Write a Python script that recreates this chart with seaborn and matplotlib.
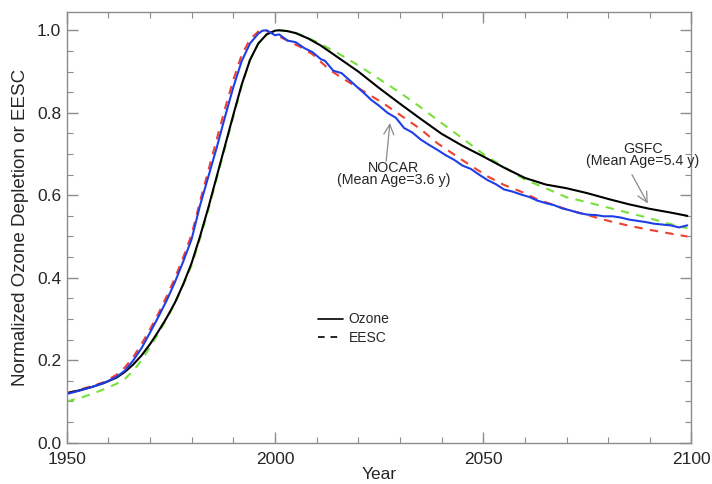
"""
Normalized ozone depletion vs EESC, GSFC and NOCAR models (1950-2100)
"""

import matplotlib
matplotlib.use('Agg')
import matplotlib.pyplot as plt
from matplotlib.lines import Line2D
import seaborn as sns

sns.set_style("ticks")
plt.rcParams['font.family'] = ['Liberation Sans', 'DejaVu Sans']

# GSFC ozone (black solid)
gsfc_o3_years = [1950, 1953, 1956, 1959, 1962, 1964, 1966, 1968, 1970, 1972, 1974,
                 1976, 1978, 1980, 1982, 1984, 1986, 1988, 1990, 1992, 1994, 1996,
                 1998, 2000, 2001, 2003, 2005, 2008, 2011, 2015, 2020, 2025, 2030,
                 2035, 2040, 2045, 2050, 2055, 2060, 2065, 2070, 2075, 2080, 2085,
                 2090, 2095, 2099]
gsfc_o3 = [0.120, 0.127, 0.135, 0.145, 0.158, 0.172, 0.190, 0.212, 0.239, 0.270, 0.303,
           0.340, 0.385, 0.436, 0.500, 0.570, 0.645, 0.720, 0.795, 0.868, 0.928, 0.968,
           0.990, 0.999, 1.000, 0.998, 0.993, 0.980, 0.963, 0.935, 0.900, 0.860, 0.822,
           0.785, 0.749, 0.720, 0.694, 0.667, 0.642, 0.626, 0.617, 0.605, 0.591, 0.578,
           0.567, 0.558, 0.550]

# GSFC EESC (green dashed)
gsfc_eesc_years = [1950, 1953, 1956, 1959, 1962, 1964, 1966, 1968, 1970, 1972, 1974,
                   1976, 1978, 1980, 1982, 1984, 1986, 1988, 1990, 1992, 1994, 1996,
                   1998, 2000, 2001, 2003, 2005, 2010, 2015, 2020, 2025, 2030, 2035,
                   2040, 2045, 2050, 2055, 2060, 2065, 2070, 2075, 2080, 2085, 2090,
                   2095, 2099]
gsfc_eesc = [0.100, 0.108, 0.118, 0.130, 0.143, 0.155, 0.175, 0.200, 0.232, 0.265, 0.300,
             0.338, 0.383, 0.430, 0.495, 0.565, 0.640, 0.715, 0.790, 0.865, 0.928, 0.968,
             0.990, 0.999, 1.000, 0.998, 0.994, 0.972, 0.945, 0.915, 0.882, 0.849, 0.813,
             0.775, 0.738, 0.700, 0.668, 0.638, 0.617, 0.595, 0.583, 0.570, 0.557, 0.544,
             0.530, 0.520]

# NOCAR EESC (red dashed)
nocar_eesc_years = [1950, 1953, 1956, 1959, 1962, 1964, 1966, 1968, 1970, 1972, 1974,
                    1976, 1978, 1980, 1982, 1984, 1986, 1988, 1990, 1992, 1994, 1996,
                    1997, 1998, 2000, 2003, 2006, 2009, 2013, 2016, 2020, 2026, 2030,
                    2035, 2039, 2045, 2051, 2055, 2060, 2063, 2070, 2075, 2080, 2085,
                    2090, 2095, 2099]
nocar_eesc = [0.120, 0.128, 0.137, 0.147, 0.165, 0.183, 0.208, 0.240, 0.275, 0.313, 0.355,
              0.400, 0.450, 0.505, 0.585, 0.660, 0.735, 0.810, 0.880, 0.940, 0.978, 0.997,
              1.000, 0.998, 0.990, 0.975, 0.960, 0.942, 0.905, 0.885, 0.860, 0.823, 0.795,
              0.760, 0.726, 0.685, 0.646, 0.625, 0.605, 0.590, 0.566, 0.552, 0.538, 0.526,
              0.516, 0.507, 0.500]

# NOCAR ozone (blue solid, wiggly)
nocar_o3_years = [1950, 1953, 1956, 1959, 1962, 1964, 1966, 1968, 1970, 1972, 1974,
                  1976, 1978, 1980, 1982, 1984, 1986, 1988, 1990, 1992, 1994, 1996,
                  1997, 1998, 2000, 2001, 2003, 2005, 2007, 2009, 2011, 2012, 2014,
                  2016, 2018, 2020, 2022, 2023, 2025, 2027, 2029, 2031, 2033, 2035,
                  2037, 2039, 2041, 2043, 2045, 2047, 2049, 2051, 2053, 2055, 2057,
                  2059, 2061, 2063, 2065, 2067, 2069, 2071, 2073, 2075, 2077, 2079,
                  2081, 2083, 2085, 2087, 2089, 2091, 2093, 2095, 2097, 2099]
nocar_o3 = [0.118, 0.126, 0.135, 0.145, 0.160, 0.175, 0.200, 0.230, 0.267, 0.305, 0.345,
            0.390, 0.440, 0.494, 0.575, 0.645, 0.715, 0.790, 0.862, 0.925, 0.968, 0.992,
            0.999, 1.000, 0.988, 0.990, 0.975, 0.971, 0.957, 0.947, 0.930, 0.926, 0.902,
            0.896, 0.878, 0.860, 0.842, 0.832, 0.817, 0.800, 0.788, 0.763, 0.752, 0.735,
            0.722, 0.710, 0.697, 0.686, 0.672, 0.664, 0.650, 0.637, 0.627, 0.614, 0.609,
            0.602, 0.596, 0.587, 0.581, 0.576, 0.568, 0.563, 0.557, 0.553, 0.552, 0.549,
            0.549, 0.546, 0.541, 0.538, 0.535, 0.531, 0.529, 0.527, 0.522, 0.527]

fig = plt.figure(figsize=(7.12, 4.84), dpi=100)
ax = fig.add_axes([0.0937, 0.0853, 0.8775, 0.8905])

dash = (0, (4, 3.5))
sns.lineplot(x=gsfc_eesc_years, y=gsfc_eesc, ax=ax, color='#78e03c', linewidth=1.5,
             linestyle=dash)
sns.lineplot(x=nocar_eesc_years, y=nocar_eesc, ax=ax, color='#f0402f', linewidth=1.5,
             linestyle=dash)
sns.lineplot(x=gsfc_o3_years, y=gsfc_o3, ax=ax, color='black', linewidth=1.5)
sns.lineplot(x=nocar_o3_years, y=nocar_o3, ax=ax, color='#1f3fe6', linewidth=1.5)

ax.set_xlim(1950, 2100)
ax.set_ylim(0, 1.045)
ax.set_xticks([1950, 2000, 2050, 2100])
ax.set_xticks(range(1950, 2101, 10), minor=True)
ax.set_yticks([0.0, 0.2, 0.4, 0.6, 0.8, 1.0])
ax.set_yticks([i * 0.05 for i in range(21)], minor=True)
ax.yaxis.set_major_formatter(matplotlib.ticker.FormatStrFormatter('%.1f'))

frame_color = '#8c8c8c'
for s in ax.spines.values():
    s.set_color(frame_color)
    s.set_linewidth(1.0)
ax.tick_params(which='both', direction='in', top=True, right=True,
               color=frame_color, labelsize=12.5)
ax.tick_params(which='major', length=8, width=1.0)
ax.tick_params(which='minor', length=4.5, width=0.8)
ax.tick_params(axis='x', which='major', pad=6.5)
ax.tick_params(axis='y', which='major', pad=4)

ax.set_xlabel('Year', fontsize=12.5, labelpad=0)
ax.set_ylabel('Normalized Ozone Depletion or EESC', fontsize=13.5, labelpad=6)

# annotations
arrow = dict(arrowstyle='->', color='#8a8a8a', lw=0.9, shrinkA=0, shrinkB=0,
             mutation_scale=18)
ax.annotate('', xy=(2027.6, 0.775), xytext=(2026.7, 0.683), arrowprops=arrow)
ax.text(2028.5, 0.620, 'NOCAR\n(Mean Age=3.6 y)', ha='center', va='bottom',
        fontsize=10.3, linespacing=0.85)
ax.annotate('', xy=(2089.5, 0.580), xytext=(2085.7, 0.650), arrowprops=arrow)
ax.text(2088.3, 0.665, 'GSFC\n(Mean Age=5.4 y)', ha='center', va='bottom',
        fontsize=10.3, linespacing=0.85)

handles = [Line2D([], [], color='black', lw=1.2),
           Line2D([], [], color='black', lw=1.2, linestyle=dash)]
ax.legend(handles, ['Ozone', 'EESC'], loc='center left',
          bbox_to_anchor=(2008.7, 0.276), bbox_transform=ax.transData,
          frameon=False, fontsize=10, handlelength=1.8, handletextpad=0.4,
          labelspacing=0.35, borderpad=0)

fig.savefig('out.png', dpi=100, facecolor='white')
plt.close(fig)
